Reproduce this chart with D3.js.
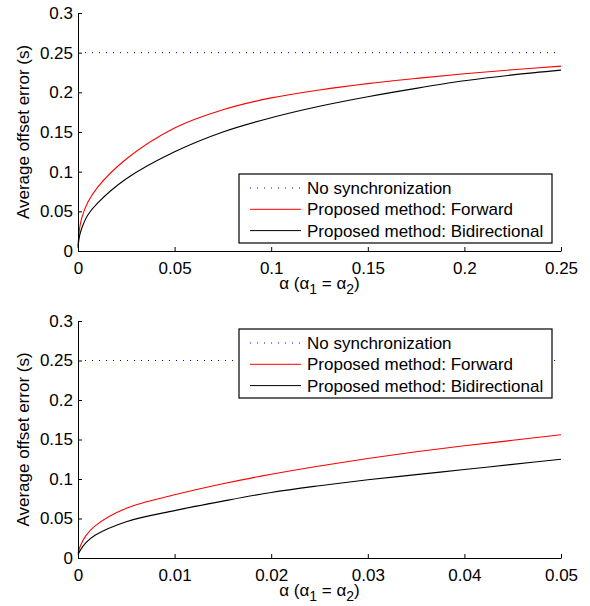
<!DOCTYPE html>
<html>
<head>
<meta charset="utf-8">
<script src="https://cdn.jsdelivr.net/npm/d3@7"></script>
<style>
  body { margin: 0; background: #fff; }
  text { font-family: "Liberation Sans", Arial, Helvetica, sans-serif; fill: #000; }
  .axis path, .axis line { stroke: #000; stroke-width: 1; }
</style>
</head>
<body>
<svg id="chart" width="590" height="606"></svg>
<script>
// values
var noSync = 0.25;

var alphaTop = [0, 0.0008, 0.002, 0.005, 0.01, 0.025, 0.05, 0.075, 0.1, 0.125, 0.15, 0.175, 0.2, 0.225, 0.25];
var fwdTop   = [0.006, 0.028, 0.042, 0.061, 0.080, 0.116, 0.155, 0.178, 0.193, 0.203, 0.211, 0.2175, 0.2235, 0.2285, 0.233];
var bidTop   = [0.004, 0.019, 0.029, 0.045, 0.060, 0.091, 0.125, 0.150, 0.168, 0.1825, 0.1945, 0.205, 0.2145, 0.222, 0.228];

var alphaBot = [0, 0.0002, 0.0008, 0.0018, 0.005, 0.01, 0.015, 0.02, 0.025, 0.03, 0.035, 0.04, 0.045, 0.05];
var fwdBot   = [0.006, 0.014, 0.028, 0.041, 0.063, 0.080, 0.094, 0.106, 0.1165, 0.126, 0.1345, 0.142, 0.149, 0.156];
var bidBot   = [0.004, 0.009, 0.019, 0.029, 0.046, 0.060, 0.072, 0.083, 0.0915, 0.099, 0.1055, 0.112, 0.1185, 0.125];

var yTicks = [0, 0.05, 0.1, 0.15, 0.2, 0.25, 0.3];
var xTicksTop = [0, 0.05, 0.1, 0.15, 0.2, 0.25];
var xTicksBot = [0, 0.01, 0.02, 0.03, 0.04, 0.05];
var legendLabels = ["No synchronization", "Proposed method: Forward", "Proposed method: Bidirectional"];

var svg = d3.select("#chart");
var fmt = d3.format("~g");

function drawPanel(alpha, fwd, bid, xTicks, top, bottom, legTop) {
  var left = 78, right = 561;
  var x = d3.scaleLinear().domain([0, xTicks[xTicks.length - 1]]).range([left, right]);
  var y = d3.scaleLinear().domain([0, 0.3]).range([bottom, top]);

  // no-sync dotted line
  svg.append("line")
    .attr("x1", x(x.domain()[0])).attr("x2", x(x.domain()[1]))
    .attr("y1", y(noSync)).attr("y2", y(noSync))
    .attr("stroke", "#0000ff").attr("stroke-width", 1)
    .attr("stroke-dasharray", "1,6");

  var line = d3.line().x(function(d) { return x(d[0]); }).y(function(d) { return y(d[1]); })
    .curve(d3.curveCatmullRom.alpha(0.5));

  svg.append("path").datum(d3.zip(alpha, fwd))
    .attr("d", line).attr("fill", "none").attr("stroke", "#ff0000").attr("stroke-width", 1.1);
  svg.append("path").datum(d3.zip(alpha, bid))
    .attr("d", line).attr("fill", "none").attr("stroke", "#000").attr("stroke-width", 1.1);

  // axes, ticks inward like matlab
  svg.append("g").attr("class", "axis")
    .attr("transform", "translate(0," + bottom + ")")
    .call(d3.axisBottom(x).tickValues(xTicks).tickFormat(fmt).tickSizeInner(-4).tickSizeOuter(0).tickPadding(11))
    .call(function(g) { g.selectAll("text").attr("font-size", 17); });

  svg.append("g").attr("class", "axis")
    .attr("transform", "translate(" + left + ",0)")
    .call(d3.axisLeft(y).tickValues(yTicks).tickFormat(fmt).tickSizeInner(-4).tickSizeOuter(0).tickPadding(5))
    .call(function(g) { g.selectAll("text").attr("font-size", 17); });

  svg.append("text")
    .attr("transform", "translate(23," + (top + bottom) / 2 + ") rotate(-90)")
    .attr("text-anchor", "middle").attr("dy", "0.35em")
    .attr("font-size", 17)
    .text("Average offset error (s)");

  // x label  α (α1 = α2)
  var xl = svg.append("text")
    .attr("x", (left + right) / 2).attr("y", bottom + 38)
    .attr("text-anchor", "middle").attr("font-size", 17);
  xl.append("tspan").text("\u03b1 (\u03b1");
  xl.append("tspan").attr("font-size", 14).attr("dy", 4.5).text("1");
  xl.append("tspan").attr("dy", -4.5).text(" = \u03b1");
  xl.append("tspan").attr("font-size", 14).attr("dy", 4.5).text("2");
  xl.append("tspan").attr("dy", -4.5).text(")");

  // legend
  var lg = svg.append("g");
  lg.append("rect").attr("x", 239).attr("y", legTop).attr("width", 313).attr("height", 69)
    .attr("fill", "#fff").attr("stroke", "#000").attr("stroke-width", 1.2);
  var styles = [
    { c: "#0000ff", dash: "1,6" },
    { c: "#ff0000", dash: null },
    { c: "#000", dash: null }
  ];
  legendLabels.forEach(function(lab, i) {
    var cy = legTop + 14 + i * 21.3;
    lg.append("line").attr("x1", 250).attr("x2", 301).attr("y1", cy).attr("y2", cy)
      .attr("stroke", styles[i].c).attr("stroke-width", 1)
      .attr("stroke-dasharray", styles[i].dash);
    lg.append("text").attr("x", 307).attr("y", cy).attr("dy", "0.35em")
      .attr("font-size", 17).text(lab);
  });
}

drawPanel(alphaTop, fwdTop, bidTop, xTicksTop, 13, 251, 174);
drawPanel(alphaBot, fwdBot, bidBot, xTicksBot, 321, 558, 329);
</script>
</body>
</html>
